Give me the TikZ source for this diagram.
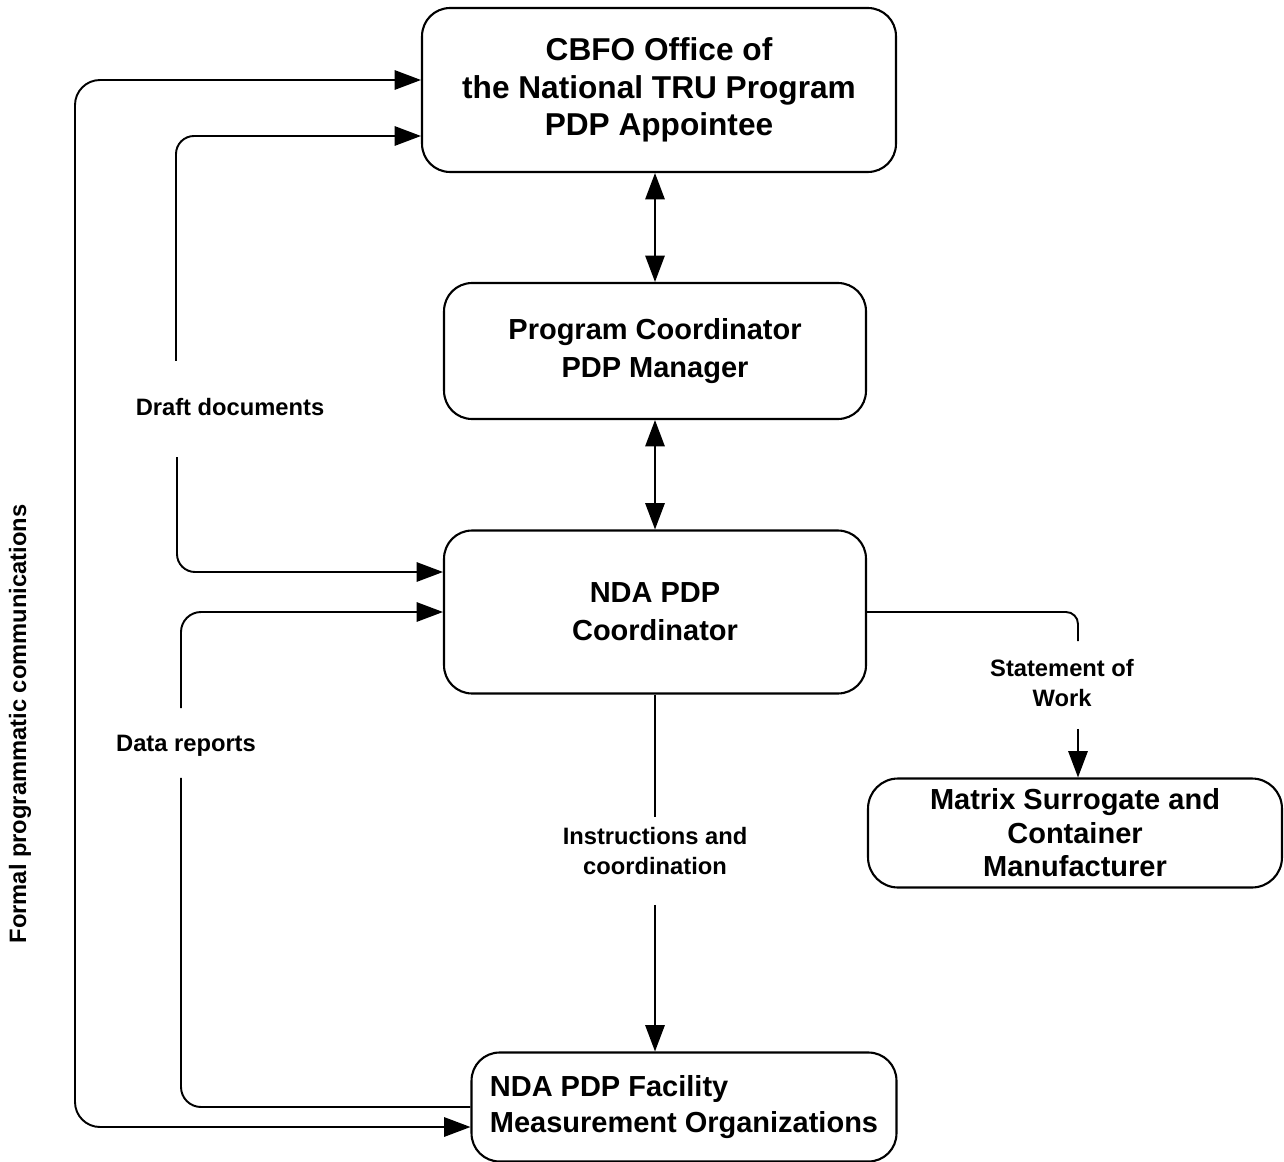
\documentclass[tikz,border=0pt]{standalone}
\usepackage{fontspec}
\setmainfont{Liberation Sans}
\usetikzlibrary{positioning,calc,arrows.meta}
\tikzset{
  box/.style={draw,line width=1.2pt,rounded corners=0.56cm,align=center,
    font=\fontsize{16.5}{21.5}\selectfont\bfseries},
  lbl/.style={align=center,inner sep=0pt,font=\fontsize{13.5}{16.8}\selectfont\bfseries},
  conn/.style={line width=1.1pt},
  tip/.style={-{Triangle[length=15pt,width=11pt]}},
  tips/.style={{Triangle[length=15pt,width=11pt]}-{Triangle[length=15pt,width=11pt]}}
}

\begin{document}
\begin{tikzpicture}[x=0.02cm,y=-0.02cm]
  \useasboundingbox (0,0) rectangle (1284,1162);

  % boxes
  \node[box,minimum width=9.48cm,minimum height=3.28cm,font=\fontsize{18}{21.5}\selectfont\bfseries]
    (cbfo) at (659,90) {CBFO Office of\\the National TRU Program\\PDP Appointee};
  \node[box,minimum width=8.44cm,minimum height=2.72cm] (pcoord) at (655,351) {Program Coordinator\\PDP Manager};
  \node[box,minimum width=8.44cm,minimum height=3.26cm] (ndacoord) at (655,612) {NDA PDP\\Coordinator};
  \node[box,minimum width=8.28cm,minimum height=2.18cm,rounded corners=0.6cm,
    font=\fontsize{16.5}{19}\selectfont\bfseries] (matrix) at (1075,833) {Matrix Surrogate and\\Container\\Manufacturer};
  \node[box,minimum width=8.5cm,minimum height=2.18cm,align=left,
    font=\fontsize{16.5}{20.4}\selectfont\bfseries] (facility) at (684,1107) {NDA PDP Facility\\Measurement Organizations};

  % labels
  \node[lbl] (draft) at (230,407) {Draft documents};
  \node[lbl] (data) at (186,746) {Data reports};
  \node[lbl] (instr) at (655,851) {Instructions and\\coordination};
  \node[lbl] (sow) at (1062,683) {Statement of\\Work};
  \node[lbl,rotate=90] (formal) at (20,724) {Formal programmatic communications};

  % connectors
  \draw[conn,tips] (pcoord.north |- cbfo.south) -- (pcoord.north);
  \draw[conn,tips] (pcoord.south) -- (ndacoord.north);
  \draw[conn] (ndacoord.south) -- ($(instr.north)+(0,-10)$);
  \draw[conn,tip] ($(instr.south)+(0,30)$) -- (instr.south |- facility.north);
  \draw[conn,rounded corners=0.24cm] (ndacoord.east) -| ($(sow.north)+(16,-18)$);
  \draw[conn,tip] ($(sow.south)+(16,22)$) -- ($(matrix.north)+(3,0)$);
  \draw[conn,tip,rounded corners=0.36cm] ($(draft.north)+(-54,-37)$) |- ($(cbfo.west)+(0,46)$);
  \draw[conn,tip,rounded corners=0.36cm] ($(draft.south)+(-53,41)$) |- ($(ndacoord.west)+(0,-40)$);
  \draw[conn,tip,rounded corners=0.4cm] ($(data.north)+(-5,-27)$) |- (ndacoord.west);
  \draw[conn,rounded corners=0.4cm] ($(data.south)+(-5,21)$) |- (facility.west);
  \draw[conn,tips,rounded corners=0.5cm] ($(cbfo.west)+(0,-10)$) -| ($(formal)+(55,0)$)
    |- ($(facility.west)+(0,20)$);
\end{tikzpicture}
\end{document}
